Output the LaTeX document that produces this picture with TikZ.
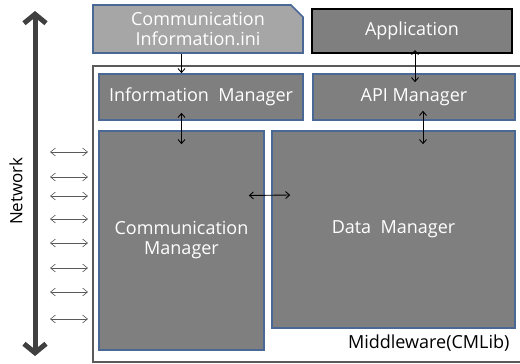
\documentclass[tikz,border=0pt]{standalone}
\usepackage{fontspec}
\setmainfont{Open Sans}
\usetikzlibrary{arrows.meta,shapes.misc}
\definecolor{boxgray}{HTML}{7F7F7F}
\definecolor{inigray}{HTML}{A6A6A6}
\definecolor{boxblue}{HTML}{4A6896}
\definecolor{framegray}{HTML}{5A5A5A}
\definecolor{netgray}{HTML}{404040}
\begin{document}
\begin{tikzpicture}[x=1pt,y=-1pt,
        mgr/.style={draw=boxblue,line width=1.6pt,fill=boxgray,text=white,
                font=\fontsize{18}{20}\selectfont,align=center,inner sep=0pt},
        link/.style={{Straight Barb[length=4pt,width=7pt]}-{Straight Barb[length=4pt,width=7pt]},line width=0.9pt},
        downlink/.style={-{Straight Barb[length=4pt,width=7pt]},line width=0.9pt},
        portlink/.style={{Straight Barb[length=5pt,width=8pt]}-{Straight Barb[length=5pt,width=8pt]},line width=0.6pt,draw=framegray},
        netarrow/.style={{Straight Barb[length=9pt,width=22pt]}-{Straight Barb[length=9pt,width=22pt]},line width=5pt,draw=netgray}]
        \useasboundingbox (0,0) rectangle (520,364);
        \node[draw=framegray,line width=1.4pt,minimum width=431pt,minimum height=296pt,inner sep=0pt] (mw) at (308.5,214) {};
        \node[mgr,fill=inigray,chamfered rectangle,chamfered rectangle corners=north east,
                chamfered rectangle xsep=6pt,chamfered rectangle ysep=6pt,
                minimum width=210pt,minimum height=48pt] (ini) at (198,29) {Communication\\Information.ini};
        \node[mgr,draw=black,line width=2pt,minimum width=200pt,minimum height=44pt] (app) at (412,31) {Application};
        \node[mgr,minimum width=204pt,minimum height=46pt] (info) at (201,97) {Information\ \ Manager};
        \node[mgr,minimum width=202pt,minimum height=46pt] (api) at (414,97) {API Manager};
        \node[mgr,minimum width=165pt,minimum height=219pt] (comm) at (181.5,240.5) {Communication\\Manager};
        \node[mgr,minimum width=243pt,minimum height=197pt] (data) at (393.5,229.5) {Data\ \ Manager};
        \node[anchor=east,font=\fontsize{18}{20}\selectfont] (mwlabel) at (513,343) {Middleware(CMLib)};
        \node[rotate=90,font=\fontsize{17}{20}\selectfont] (net) at (16,191) {Network};
        \coordinate (nettop) at (35,11);
        \coordinate (netbot) at (35,356);
        \draw[netarrow] (nettop) -- (netbot);
        \foreach \y in {152,177,196,219,243,268,292,319}
                \draw[portlink] (50,\y) -- (88,\y);
        \draw[downlink] (ini.south -| comm.north) -- (info.north -| comm.north);
        \draw[link] ([yshift=8pt]info.south -| comm.north) -- ([yshift=-14pt]comm.north);
        \draw[link] ([yshift=4pt,xshift=3pt]app.south) -- ([yshift=-9pt,xshift=1pt]api.north);
        \draw[link] ([yshift=10pt,xshift=9pt]api.south) -- ([yshift=-14pt,xshift=9pt]api.south |- data.north);
        \draw[link] ([yshift=45pt,xshift=-16pt]comm.east) -- ([yshift=34.5pt,xshift=19pt]data.west);
\end{tikzpicture}
\end{document}
